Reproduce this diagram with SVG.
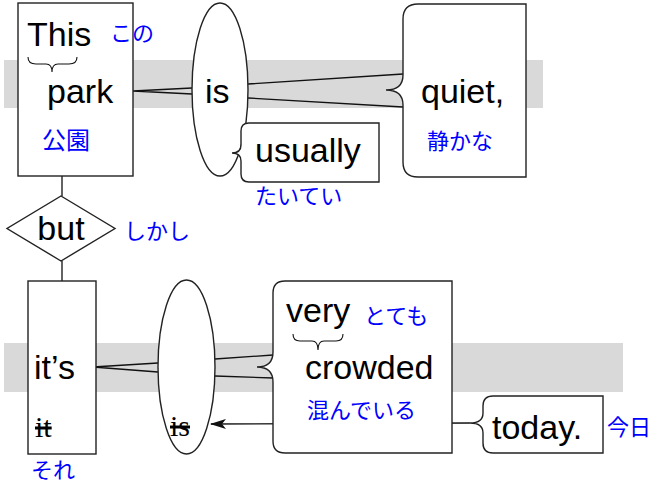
<svg xmlns="http://www.w3.org/2000/svg" width="657" height="486" viewBox="0 0 657 486">
<defs>
<style>
.band{fill:#d9d9d9;stroke:none}
.node{fill:#fff;stroke:#222;stroke-width:1.4}
.ln{fill:none;stroke:#111;stroke-width:1.3}
.br{fill:none;stroke:#111;stroke-width:1.1}
.w{font-family:"Liberation Sans",Arial,sans-serif;font-size:34px;fill:#000}
.s{font-family:"Liberation Serif","Times New Roman",serif;font-size:30px;fill:#000;text-decoration:line-through}
.j{font-family:"Noto Sans CJK JP","Noto Sans",sans-serif;font-size:22px;fill:#0000ff}
</style>
<marker id="arr" markerUnits="userSpaceOnUse" markerWidth="16" markerHeight="10" viewBox="0 0 16 10" refX="15" refY="5" orient="auto">
<path d="M0,0 L16,5 L0,10 L4,5 Z" fill="#111"/>
</marker>
</defs>
<rect class="band" x="4" y="60" width="539" height="48"/>
<rect class="band" x="4" y="343" width="619" height="49"/>
<g id="connectors">
<path class="ln" d="M133,91 L192,88 M133,91 L192,94"/>
<path class="ln" d="M248,84 L403,74 M248,98 L403,107"/>
<path class="ln" d="M62,176 L62,196 M62,261 L62,281"/>
<path class="ln" d="M93,367 L158,363 M93,367 L158,372"/>
<path class="ln" d="M215,359 L273,355 M215,376 L273,378"/>
<path class="ln" d="M470,423 L211,424" marker-end="url(#arr)"/>
</g>
<g id="n-park">
<rect class="node" x="18" y="3" width="115" height="173"/>
<text class="w" x="27" y="46">This</text>
<path class="br" d="M28,57 Q28,64 36,64 L46,64 Q52,64 52,72 Q52,64 58,64 L69,64 Q77,64 77,57"/>
<text class="j" x="110" y="41">この</text>
<text class="w" x="47" y="103">park</text>
<text class="j" x="42" y="149" style="font-size:24px">公園</text>
</g>
<g id="n-is1">
<ellipse class="node" cx="220" cy="89.5" rx="28" ry="86.5"/>
<text class="w" x="205" y="103">is</text>
</g>
<g id="n-quiet">
<path class="node" d="M526,4 L418,4 Q403,4 403,19 L403,75 Q403,90 386,90 Q403,90 403,105 L403,162 Q403,177 418,177 L526,177 Z"/>
<text class="w" x="421" y="103">quiet,</text>
<text class="j" x="427" y="149">静かな</text>
</g>
<g id="n-usually">
<path class="node" d="M379,123 L249,123 Q241,123 241,131 L241,145 Q241,153 232,153 Q241,153 241,161 L241,174 Q241,182 249,182 L379,182 Z"/>
<text class="w" x="255" y="162">usually</text>
<text class="j" x="255" y="204">たいてい</text>
</g>
<g id="n-but">
<polygon class="node" points="61,196 115,228.5 61,261 7,228.5"/>
<text class="w" x="61" y="240" text-anchor="middle">but</text>
<text class="j" x="124" y="239">しかし</text>
</g>
<g id="n-its">
<rect class="node" x="28" y="281" width="68" height="173"/>
<text class="w" x="34" y="379">it’s</text>
<text class="s" x="35" y="437">it</text>
<text class="j" x="31" y="478">それ</text>
</g>
<g id="n-is2">
<ellipse class="node" cx="186.5" cy="367" rx="28.5" ry="87"/>
<text class="s" x="170" y="436">is</text>
</g>
<g id="n-crowded">
<path class="node" d="M452,281 L285,281 Q273,281 273,293 L273,352 Q273,367 257,367 Q273,367 273,382 L273,441 Q273,453 285,453 L452,453 Z"/>
<text class="w" x="286" y="322">very</text>
<path class="br" d="M293,334 Q293,341 300,341 L312,341 Q318,341 318,350 Q318,341 324,341 L336,341 Q343,341 343,334"/>
<text class="j" x="364" y="324">とても</text>
<text class="w" x="305" y="379">crowded</text>
<text class="j" x="307" y="418">混んでいる</text>
</g>
<g id="n-today">
<path class="node" d="M603,396 L493,396 Q483,396 483,406 L483,413 Q483,423 470,423 Q483,423 483,433 L483,443 Q483,453 493,453 L603,453 Z"/>
<text class="w" x="492" y="439">today.</text>
<text class="j" x="607" y="435">今日</text>
</g>
</svg>
